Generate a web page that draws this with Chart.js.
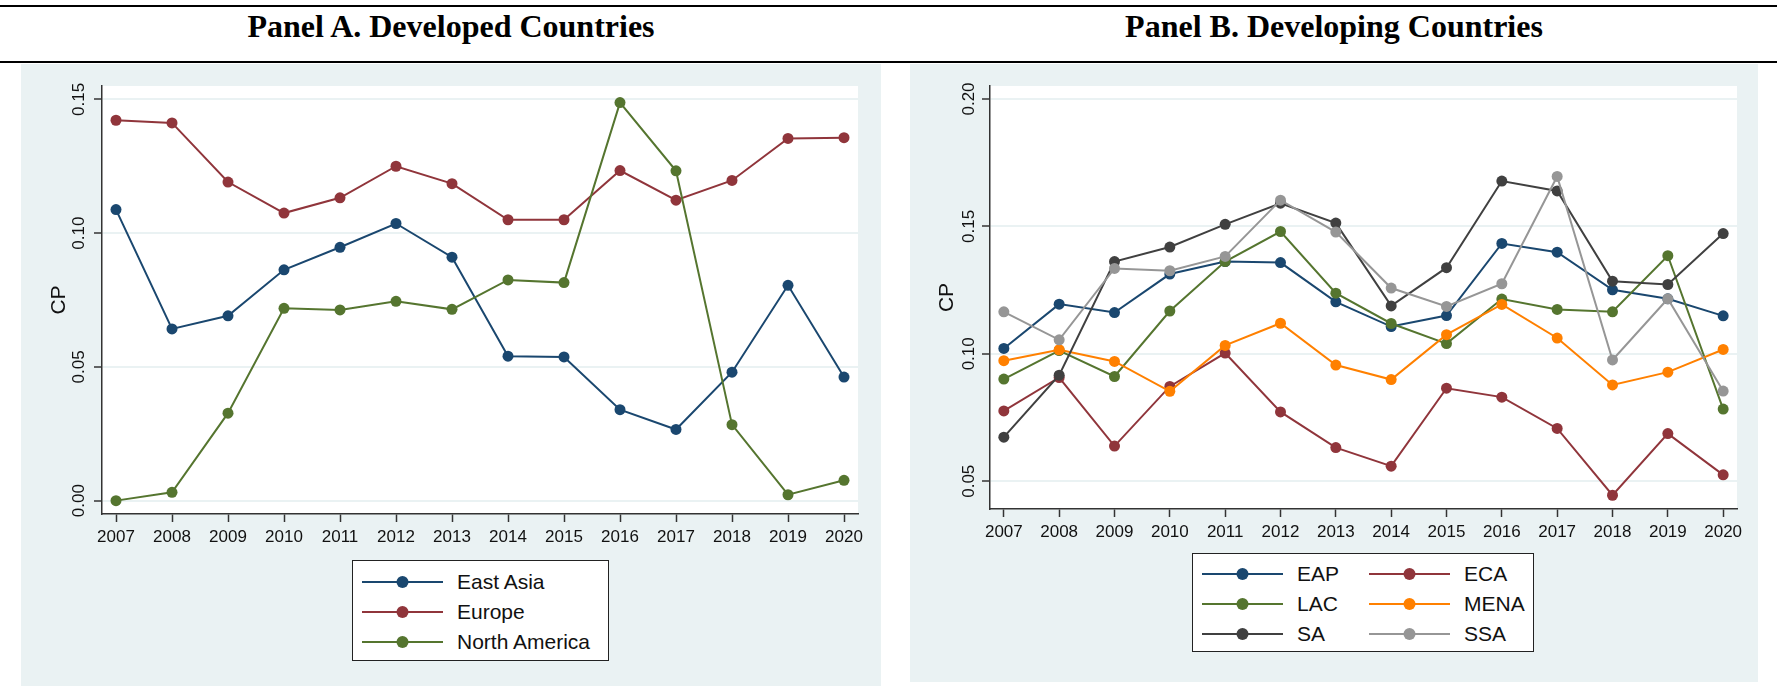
<!DOCTYPE html>
<html>
<head>
<meta charset="utf-8">
<script src="https://cdn.jsdelivr.net/npm/chart.js@4.4.0/dist/chart.umd.min.js"></script>
<style>
  body { margin: 0; width: 1777px; height: 686px; position: relative; background: #fff; overflow: hidden;
         font-family: "Liberation Sans", Arial, sans-serif; }
  .rule { position: absolute; left: 0; width: 1777px; height: 2px; background: #000; }
  .title { position: absolute; top: 10px; font: bold 32px "Liberation Serif", "Times New Roman", serif;
           line-height: 1; text-align: center; color: #000; }
  .panel { position: absolute; background: #eaf2f3; }
  .panel canvas { position: absolute; left: 0; top: 0; }
  .legend { position: absolute; background: #fff; border: 1px solid #222; box-sizing: border-box; }
  .item { position: absolute; height: 30px; display: flex; align-items: center; font-size: 21px; color: #111; }
  .item svg { margin-right: 14px; }
</style>
</head>
<body>
<div class="rule" style="top:5px"></div>
<div class="rule" style="top:61px"></div>
<div class="title" style="left:21px;width:860px">Panel A. Developed Countries</div>
<div class="title" style="left:910px;width:848px">Panel B. Developing Countries</div>

<div class="panel" style="left:21px;top:64px;width:860px;height:622px">
  <canvas id="chartA" width="860" height="622"></canvas>
</div>
<div class="panel" style="left:910px;top:64px;width:848px;height:618px">
  <canvas id="chartB" width="848" height="618"></canvas>
</div>
<div class="legend" id="legendA" style="left:352px;top:560px;width:257px;height:101px"></div>
<div class="legend" id="legendB" style="left:1192px;top:553px;width:342px;height:99px"></div>

<script>
// years on the x axis
const years = [2007, 2008, 2009, 2010, 2011, 2012, 2013, 2014, 2015, 2016, 2017, 2018, 2019, 2020];

// Panel A - developed countries
const labelsA = ["East Asia", "Europe", "North America"];
const eastAsia     = [0.1088, 0.0642, 0.0691, 0.0863, 0.0947, 0.1036, 0.0910, 0.0540, 0.0537, 0.0340, 0.0266, 0.0480, 0.0805, 0.0462];
const europe       = [0.1422, 0.1412, 0.1191, 0.1075, 0.1132, 0.1250, 0.1185, 0.1050, 0.1050, 0.1234, 0.1123, 0.1197, 0.1354, 0.1357];
const northAmerica = [0.0000, 0.0031, 0.0327, 0.0719, 0.0713, 0.0745, 0.0715, 0.0825, 0.0815, 0.1488, 0.1233, 0.0284, 0.0022, 0.0076];
const ticksA = [0.00, 0.05, 0.10, 0.15];

// Panel B - developing countries
const labelsB = ["EAP", "ECA", "LAC", "MENA", "SA", "SSA"];
const eap  = [0.1021, 0.1195, 0.1162, 0.1313, 0.1362, 0.1358, 0.1204, 0.1107, 0.1150, 0.1433, 0.1399, 0.1251, 0.1216, 0.1149];
const eca  = [0.0776, 0.0907, 0.0638, 0.0872, 0.1003, 0.0772, 0.0632, 0.0559, 0.0865, 0.0830, 0.0707, 0.0445, 0.0687, 0.0525];
const lac  = [0.0901, 0.1013, 0.0911, 0.1168, 0.1362, 0.1480, 0.1238, 0.1119, 0.1040, 0.1215, 0.1174, 0.1165, 0.1385, 0.0783];
const mena = [0.0973, 0.1016, 0.0970, 0.0853, 0.1033, 0.1120, 0.0956, 0.0899, 0.1075, 0.1194, 0.1062, 0.0878, 0.0928, 0.1017];
const sa   = [0.0673, 0.0916, 0.1362, 0.1419, 0.1508, 0.1591, 0.1513, 0.1188, 0.1338, 0.1678, 0.1639, 0.1285, 0.1272, 0.1472];
const ssa  = [0.1165, 0.1055, 0.1335, 0.1326, 0.1382, 0.1603, 0.1478, 0.1258, 0.1186, 0.1275, 0.1696, 0.0976, 0.1216, 0.0854];
const ticksB = [0.05, 0.10, 0.15, 0.20];

const COLORS = {
  navy: "#1a476f",
  maroon: "#90353b",
  green: "#55752f",
  orange: "#ff8000",
  dark: "#404040",
  grey: "#969696",
};

// white plot region, rotated y tick labels and axis title (Stata look)
const stataAxes = {
  id: "stataAxes",
  beforeDraw(chart) {
    const { ctx, chartArea: a } = chart;
    ctx.save();
    ctx.fillStyle = "#fff";
    ctx.fillRect(a.left, a.top, a.right - a.left, a.bottom - a.top);
    ctx.restore();
  },
  afterDraw(chart) {
    const { ctx, chartArea: a } = chart;
    const y = chart.scales.y;
    const gap = chart.options.plugins.stataAxes.gap;
    ctx.save();
    ctx.fillStyle = "#111";
    ctx.textAlign = "center";
    ctx.textBaseline = "alphabetic";
    ctx.font = '17px "Liberation Sans", Arial, sans-serif';
    y.ticks.forEach((t) => {
      ctx.save();
      ctx.translate(a.left - gap, y.getPixelForValue(t.value));
      ctx.rotate(-Math.PI / 2);
      ctx.fillText(t.value.toFixed(2), 0, 0);
      ctx.restore();
    });
    ctx.font = '21px "Liberation Sans", Arial, sans-serif';
    ctx.translate(a.left - 37, (a.top + a.bottom) / 2);
    ctx.rotate(-Math.PI / 2);
    ctx.fillText("CP", 0, 0);
    ctx.restore();
  },
};

function makeChart(id, labels, series, colors, yMin, yMax, yTicks, opts) {
  const datasets = series.map((vals, i) => ({
    label: labels[i],
    data: vals.map((v, j) => ({ x: years[j], y: v })),
    borderColor: colors[i],
    backgroundColor: colors[i],
    pointBackgroundColor: colors[i],
    pointBorderColor: colors[i],
    borderWidth: 2,
    pointRadius: 5.5,
    pointBorderWidth: 0,
    lineTension: 0,
    fill: false,
    order: -i, // later series on top, like Stata
  }));

  return new Chart(document.getElementById(id), {
    type: "line",
    data: { datasets: datasets },
    options: {
      responsive: false,
      animation: false,
      devicePixelRatio: 1,
      layout: { padding: { left: 0, top: 22, right: opts.right, bottom: opts.bottom } },
      plugins: {
        legend: { display: false },
        tooltip: { enabled: false },
        stataAxes: { gap: opts.gap },
      },
      scales: {
        x: {
          type: "linear",
          min: 2006.75,
          max: 2020.25,
          afterBuildTicks: (s) => { s.ticks = years.map((v) => ({ value: v })); },
          afterFit: (s) => { s.height = 40; },
          ticks: {
            padding: 5,
            color: "#111",
            font: { family: '"Liberation Sans", Arial, sans-serif', size: 17 },
            maxRotation: 0,
            autoSkip: false,
            callback: (v) => String(v),
          },
          grid: { drawOnChartArea: false, drawTicks: true, tickLength: 8, tickColor: "#333", tickWidth: 1.5 },
          border: { display: true, color: "#333", width: 1.5 },
        },
        y: {
          type: "linear",
          min: yMin,
          max: yMax,
          afterBuildTicks: (s) => { s.ticks = yTicks.map((v) => ({ value: v })); },
          afterFit: (s) => { s.width = opts.left; },
          ticks: { display: false },
          grid: { color: "#eaf2f3", lineWidth: 2, drawTicks: true, tickLength: 8, tickColor: "#333", tickWidth: 1.5 },
          border: { display: true, color: "#333", width: 1.5 },
        },
      },
    },
    plugins: [stataAxes],
  });
}

function buildLegend(id, labels, colors, cols, pos) {
  const box = document.getElementById(id);
  labels.forEach((lab, i) => {
    const c = colors[i];
    const item = document.createElement("div");
    item.className = "item";
    item.style.left = pos.colLeft[i % cols] + "px";
    item.style.top = pos.rowTop[Math.floor(i / cols)] + "px";
    item.innerHTML =
      '<svg width="81" height="14"><line x1="0" y1="7" x2="81" y2="7" stroke="' + c +
      '" stroke-width="2.2"/><circle cx="40.5" cy="7" r="6" fill="' + c + '"/></svg><span>' + lab + "</span>";
    box.appendChild(item);
  });
}

const colorsA = [COLORS.navy, COLORS.maroon, COLORS.green];
const colorsB = [COLORS.navy, COLORS.maroon, COLORS.green, COLORS.orange, COLORS.dark, COLORS.grey];

makeChart("chartA", labelsA, [eastAsia, europe, northAmerica], colorsA, -0.005, 0.155, ticksA,
  { left: 81, right: 23, bottom: 132, gap: 18 });
makeChart("chartB", labelsB, [eap, eca, lac, mena, sa, ssa], colorsB, 0.0391, 0.2051, ticksB,
  { left: 80, right: 21, bottom: 133, gap: 16 });

buildLegend("legendA", labelsA, colorsA, 1, { colLeft: [9], rowTop: [6, 36, 66] });
buildLegend("legendB", labelsB, colorsB, 2, { colLeft: [9, 176], rowTop: [5, 35, 65] });
</script>
</body>
</html>
